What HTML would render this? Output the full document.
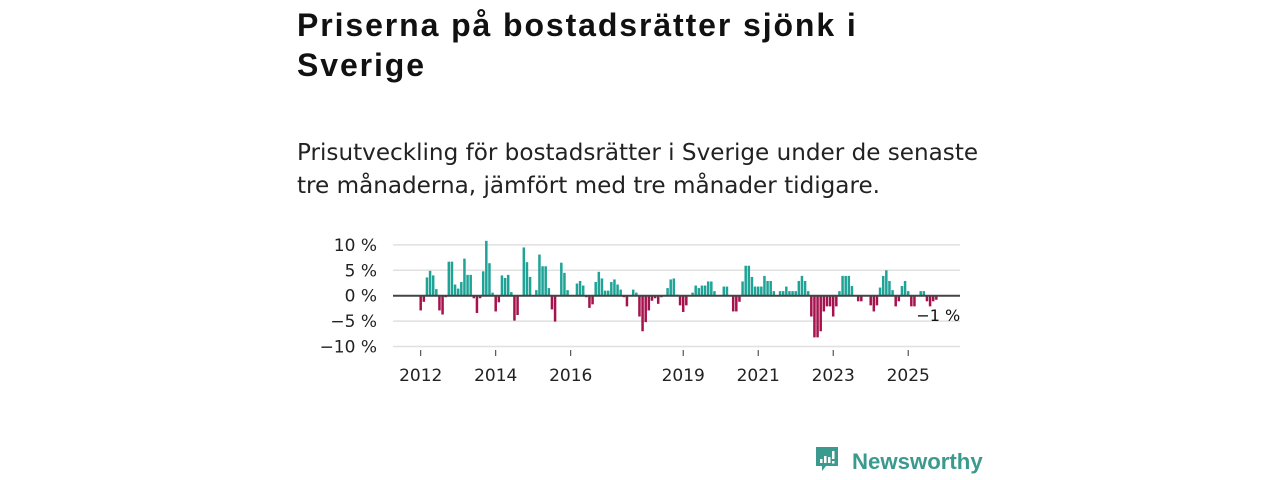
<!DOCTYPE html>
<html><head><meta charset="utf-8"><style>
body{margin:0;width:1280px;height:480px;background:#fff;overflow:hidden;font-family:"Liberation Sans","DejaVu Sans",sans-serif;color:#111}
.t{position:absolute;left:297px;top:5px;font-size:32px;letter-spacing:1.9px;font-weight:bold;line-height:40px;width:760px;white-space:nowrap}
.s{position:absolute;left:297px;top:137px;font-family:"DejaVu Sans",sans-serif;font-size:23.1px;line-height:33px;color:#222;width:760px;white-space:nowrap}
svg{position:absolute;left:0;top:0}
</style></head><body>
<div class="t">Priserna på bostadsrätter sjönk i<br>Sverige</div>
<div class="s">Prisutveckling för bostadsrätter i Sverige under de senaste<br>tre månaderna, jämfört med tre månader tidigare.</div>
<svg id="c" width="1280" height="480">
<g id="grid"></g><g id="bars"></g><g id="axis"></g>
<g>
<path d="M816 447h22v19h-12l-4 5v-5h-6z" fill="#3a9a8e"/>
<rect x="820" y="459" width="2.5" height="4" fill="#fff"/><rect x="824" y="456" width="2.5" height="7" fill="#fff"/><rect x="828" y="457" width="2.5" height="6" fill="#fff"/><rect x="832" y="451" width="2.5" height="8" fill="#fff"/><rect x="832" y="461" width="2.5" height="2.5" fill="#fff"/>
<text x="852" y="469" font-size="22.2" font-weight="bold" fill="#3a9a8e" font-family="Liberation Sans, sans-serif">Newsworthy</text>
</g>
</svg>
<script>
const values=[-2.9,-1.2,3.6,4.9,4.0,1.3,-2.9,-3.7,-0.3,6.7,6.7,2.2,1.4,2.7,7.3,4.1,4.1,-0.5,-3.4,-0.5,4.8,10.8,6.4,0.6,-3.1,-1.3,4.0,3.5,4.1,0.7,-4.9,-3.8,0,9.5,6.6,3.7,0,1.1,8.1,5.8,5.8,1.5,-2.7,-5.1,0,6.5,4.5,1.1,0,0,2.4,2.9,2.0,-0.3,-2.4,-1.7,2.7,4.7,3.4,1.0,1.0,2.7,3.2,2.2,1.2,-0.3,-2.1,0,1.2,0.6,-4.1,-7.0,-5.2,-2.9,-1.0,-0.5,-1.6,-0.3,0,1.5,3.2,3.4,0.2,-1.9,-3.2,-1.9,0,0.6,2.0,1.5,2.0,2.0,2.8,2.8,0.9,0,0,1.8,1.8,0,-3.1,-3.1,-1.2,2.8,5.9,5.9,3.7,1.8,1.8,1.8,3.9,2.9,2.9,0.9,0,0.9,0.9,1.8,0.9,0.9,0.9,2.9,3.9,2.9,0.9,-4.1,-8.2,-8.2,-7.0,-3.1,-2.1,-2.1,-4.1,-2.1,0.9,3.9,3.9,3.9,1.9,0,-1.1,-1.1,0,0,-1.9,-3.1,-1.9,1.6,3.9,5.0,2.9,1.1,-2.1,-1.1,1.9,2.9,0.9,-2.1,-2.1,0,0.9,0.9,-1.1,-2.1,-1.1,-0.8];
const startYear=2012;
const yTicks=[10,5,0,-5,-10];
const yTickLabels=["10 %","5 %","0 %","\u22125 %","\u221210 %"];
const xTickYears=[2012,2014,2016,2019,2021,2023,2025];
const lastLabel="\u22121 %";
const NS="http://www.w3.org/2000/svg";
const x0=420.7,perMonth=3.125,yZero=295.7,perPct=5.08;
const xs=i=>x0+perMonth*i;
const ys=v=>yZero-v*perPct;
function mk(tag,attrs,parent){const e=document.createElementNS(NS,tag);for(const k in attrs)e.setAttribute(k,attrs[k]);parent.appendChild(e);return e;}
const grid=document.getElementById('grid'),bars=document.getElementById('bars'),axis=document.getElementById('axis');
yTicks.forEach((t,k)=>{
 if(t!==0){const l=mk('line',{x1:393,x2:960,y1:ys(t),y2:ys(t),stroke:'#e0e0e0','stroke-width':1.5},grid);
 
 }
 const tx=mk('text',{x:377,y:ys(t)+6,'text-anchor':'end','font-size':17,fill:'#222','font-family':'DejaVu Sans, sans-serif'},axis);
 tx.textContent=yTickLabels[k];
 
 
});
values.forEach((v,i)=>{
 if(v===0)return;
 const r=mk('rect',{x:xs(i)-1.25,width:2.5,y:Math.min(ys(v),yZero),height:Math.abs(ys(v)-yZero),fill:v>0?'#1fa397':'#a5124d'},bars);
 
 
});
const z=mk('line',{x1:393,x2:960,y1:yZero,y2:yZero,stroke:'#444','stroke-width':2},axis);


xTickYears.forEach(yr=>{
 const x=xs((yr-startYear)*12);
 const tk=mk('line',{x1:x,x2:x,y1:350,y2:356,stroke:'#333','stroke-width':1},axis);
 
 
 const tx=mk('text',{x:x,y:381,'text-anchor':'middle','font-size':17,fill:'#222','font-family':'DejaVu Sans, sans-serif'},axis);
 tx.textContent=yr;
 
 
});
const lb=mk('text',{x:xs(values.length-1)-20,y:321,'font-size':16,fill:'#111','font-family':'DejaVu Sans, sans-serif'},axis);
lb.textContent=lastLabel;


</script>
</body></html>
